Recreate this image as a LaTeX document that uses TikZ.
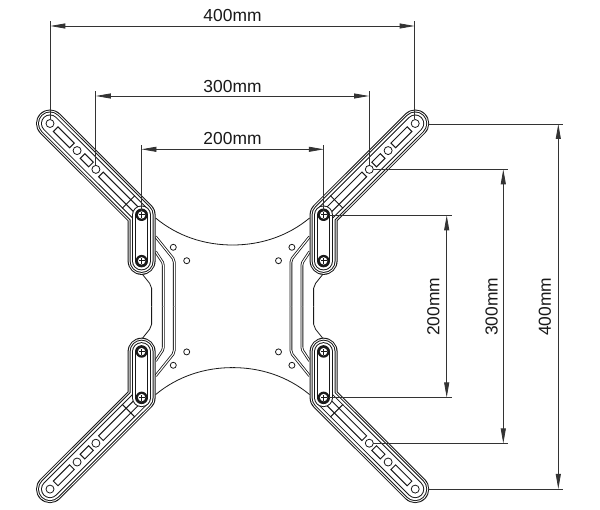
\documentclass[tikz,border=0pt]{standalone}
\usepackage{fontspec}
\setmainfont{Liberation Sans}
\usetikzlibrary{arrows.meta}
\tikzset{
  part/.style={line width=1pt,draw=black!90},
  stroke/.style={line join=round,line cap=round,line width=#1},
  dimline/.style={line width=0.8pt,draw=black!80,{Triangle[length=15pt,width=5pt]}-{Triangle[length=15pt,width=5pt]}},
  extline/.style={line width=0.8pt,draw=black!80},
  lbl/.style={font=\fontsize{17.4}{18}\selectfont,inner sep=0pt,text=black!90},
  rib/.style={line width=0.8pt,draw=black!90,double=white,double distance=1.1pt},
  hole/.style={line width=0.8pt,draw=black!90,fill=white}
}
% one quarter of the bracket, in coordinates relative to the centre (upper-left quadrant)
\newcommand{\armshell}{%
  \def\armpath{(-182.6,-182.8) -- (-91,-91.3) -- (-91,-45.4)}
  \draw[stroke=28pt,black!90] \armpath;
  \draw[stroke=26pt,white] \armpath;
  \draw[stroke=24pt,black!90] \armpath;
  \draw[stroke=22pt,white] \armpath;
  \draw[stroke=18pt,black!90] (-182.6,-182.8) -- (-91,-91.3);
  \draw[stroke=16pt,white] (-182.6,-182.8) -- (-91,-91.3);
  \begin{scope}[shift={(-182.6,-182.8)},rotate=-45]
    \draw[part,fill=white] (8,-3.3) rectangle (31,3.3);
    \draw[part,fill=white] (46,-3.3) rectangle (58,3.3);
    \draw[part,fill=white] (72,-3.3) rectangle (122,3.3);
    \draw[part] (111,-9) -- (111,9);
    \draw[hole] (0,0) circle (4);
    \draw[hole] (38.3,0) circle (4);
    \draw[hole] (64.9,0) circle (4);
  \end{scope}
  \draw[stroke=19pt,black!90] (-91,-91.3) -- (-91,-45.4);
  \draw[stroke=17pt,white] (-91,-91.3) -- (-91,-45.4);
  \draw[stroke=13pt,black!90] (-91,-91.3) -- (-91,-45.4);
  \draw[stroke=11pt,white] (-91,-91.3) -- (-91,-45.4);
  \foreach \sy in {-91.3,-45.4}{
    \fill[black!90] (-91,\sy) circle (6);
    \fill[white] (-91,\sy) circle (3.7);
    \draw[line width=1pt,black!90] (-94,\sy) -- (-88,\sy) (-91,\sy-3) -- (-91,\sy+3);
  }
}
\newcommand{\plateedge}{%
  \draw[line width=0.8pt,black!90] (-77,-88.3) .. controls (-55,-70) and (-28,-61.3) .. (0,-61.3);
  \draw[line width=0.8pt,black!90] (-91,-33) -- (-83,-23) .. controls (-81.5,-21) .. (-81,-18) -- (-81,0);
  \draw[rib] (-77,-69.6) -- (-59.6,-48) -- (-58.3,-44) -- (-58.3,0);
  \draw[rib] (-77,-54.6) -- (-70,-44) -- (-69.3,-41) -- (-69.3,0);
  \draw[hole] (-59.3,-59) circle (3);
  \draw[hole] (-45.9,-45.6) circle (3);
}
\begin{document}
\begin{tikzpicture}[x=1pt,y=-1pt]
\useasboundingbox (0,0) rectangle (600,510);
\fill[white] (0,0) rectangle (600,510);
\begin{scope}[shift={(232.6,306.3)}]
  \foreach \sx/\sy in {1/1,-1/1,1/-1,-1/-1}{
    \begin{scope}[xscale=\sx,yscale=\sy]\plateedge\end{scope}
  }
  \foreach \sx/\sy in {1/1,-1/1,1/-1,-1/-1}{
    \begin{scope}[xscale=\sx,yscale=\sy]\armshell\end{scope}
  }
\end{scope}
% anchor points of the dimensions
\coordinate (aUL) at (50.3,119.5);
\coordinate (bUL) at (95.8,165.5);
\coordinate (cUL) at (141.4,211);
\coordinate (aUR) at (414.6,119.5);
\coordinate (bUR) at (369,165.5);
\coordinate (cUR) at (323.8,211);
\coordinate (aTop) at (50.3,21);
\coordinate (aTopR) at (414.6,21);
\coordinate (bTop) at (95.8,90.7);
\coordinate (bTopR) at (369,90.7);
\coordinate (cTop) at (141.4,145);
\coordinate (cTopR) at (323.8,145);
\coordinate (aDimL) at (50.3,26);
\coordinate (aDimR) at (414.6,26);
\coordinate (bDimL) at (95.8,96);
\coordinate (bDimR) at (369,96);
\coordinate (cDimL) at (141.4,149.3);
\coordinate (cDimR) at (323.8,149.3);
\coordinate (rA1) at (429,124);
\coordinate (rA2) at (429,489);
\coordinate (rB1) at (373,169.3);
\coordinate (rB2) at (373,443.5);
\coordinate (rC1) at (329,215.3);
\coordinate (rC2) at (329,397.5);
\coordinate (rAe1) at (563.3,124);
\coordinate (rAe2) at (563.3,489);
\coordinate (rBe1) at (508.3,169.3);
\coordinate (rBe2) at (508.3,443.5);
\coordinate (rCe1) at (451.5,215.3);
\coordinate (rCe2) at (451.5,397.5);
\coordinate (rAd1) at (558.3,124);
\coordinate (rAd2) at (558.3,489);
\coordinate (rBd1) at (503.3,169.3);
\coordinate (rBd2) at (503.3,443.5);
\coordinate (rCd1) at (446.7,215.3);
\coordinate (rCd2) at (446.7,397.5);
% extension lines
\draw[extline] (aUL) -- (aTop);
\draw[extline] (aUR) -- (aTopR);
\draw[extline] (bUL) -- (bTop);
\draw[extline] (bUR) -- (bTopR);
\draw[extline] (cUL) -- (cTop);
\draw[extline] (cUR) -- (cTopR);
\draw[extline] (rA1) -- (rAe1);
\draw[extline] (rA2) -- (rAe2);
\draw[extline] (rB1) -- (rBe1);
\draw[extline] (rB2) -- (rBe2);
\draw[extline] (rC1) -- (rCe1);
\draw[extline] (rC2) -- (rCe2);
% dimension lines
\draw[dimline] (aDimL) -- (aDimR);
\draw[dimline] (bDimL) -- (bDimR);
\draw[dimline] (cDimL) -- (cDimR);
\draw[dimline] (rAd1) -- (rAd2);
\draw[dimline] (rBd1) -- (rBd2);
\draw[dimline] (rCd1) -- (rCd2);
% labels
\node[lbl] (t400) at (232.5,16) {400mm};
\node[lbl] (t300) at (232.5,86.3) {300mm};
\node[lbl] (t200) at (232.5,139) {200mm};
\node[lbl,rotate=90] (r400) at (545,306.7) {400mm};
\node[lbl,rotate=90] (r300) at (491.7,306.7) {300mm};
\node[lbl,rotate=90] (r200) at (433.5,306.7) {200mm};
\end{tikzpicture}
\end{document}
